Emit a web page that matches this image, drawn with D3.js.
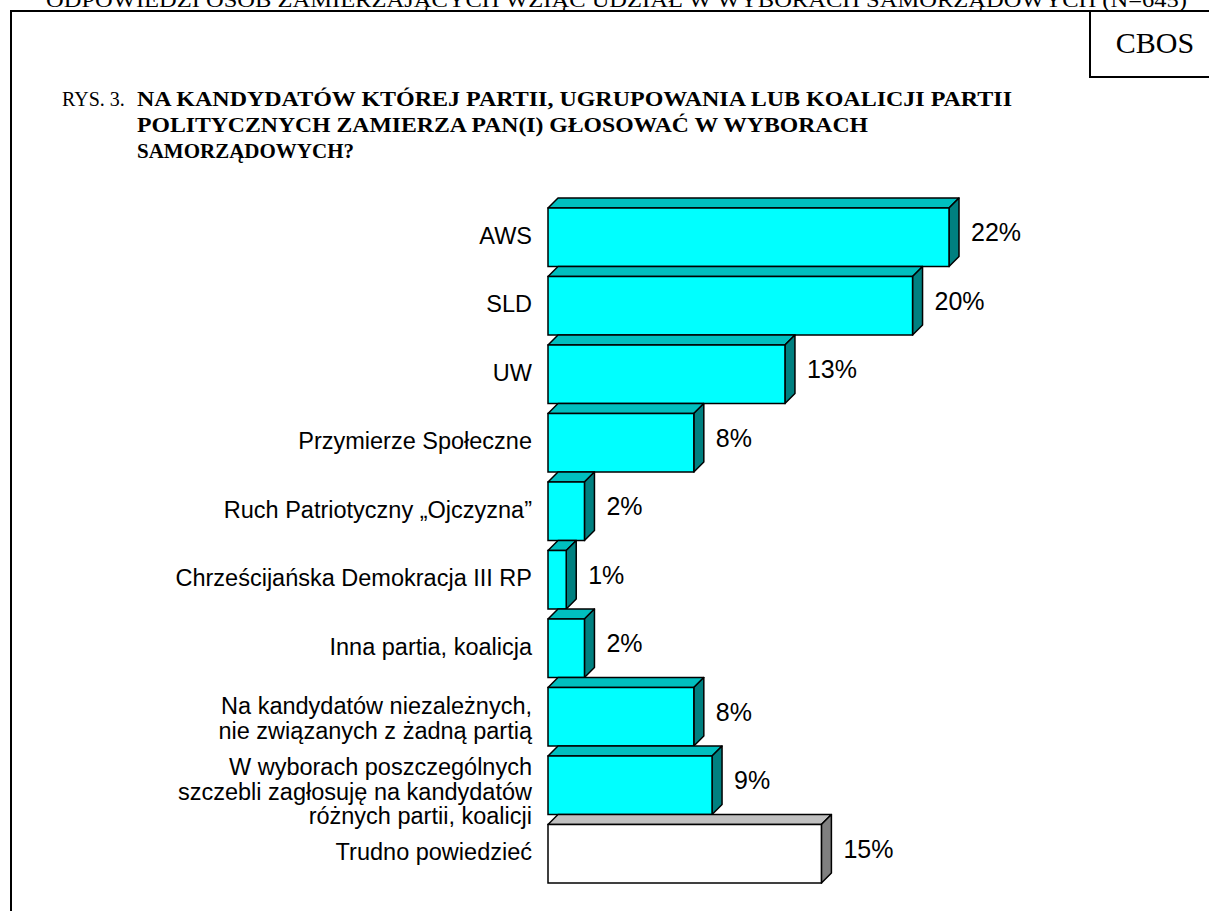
<!DOCTYPE html>
<html>
<head>
<meta charset="utf-8">
<script src="https://cdn.jsdelivr.net/npm/d3@7"></script>
<style>
body { margin: 0; background: #fff; }
svg { display: block; }
.cat { font-family: "Liberation Sans", Arial, sans-serif; font-size: 23.5px; fill: #000; }
.val { font-family: "Liberation Sans", Arial, sans-serif; font-size: 25px; fill: #000; }
.serif { font-family: "Liberation Serif", "Times New Roman", serif; fill: #000; }
</style>
</head>
<body>
<svg id="main"></svg>
<script>
// chart data
var categories = [
  "AWS",
  "SLD",
  "UW",
  "Przymierze Społeczne",
  "Ruch Patriotyczny „Ojczyzna”",
  "Chrześcijańska Demokracja III RP",
  "Inna partia, koalicja",
  "Na kandydatów niezależnych,|nie związanych z żadną partią",
  "W wyborach poszczególnych|szczebli zagłosuję na kandydatów|różnych partii, koalicji",
  "Trudno powiedzieć"
];
var values = [22, 20, 13, 8, 2, 1, 2, 8, 9, 15];
var valueLabels = ["22%", "20%", "13%", "8%", "2%", "1%", "2%", "8%", "9%", "15%"];
var highlight = [false, false, false, false, false, false, false, false, false, true]; // white bar

var topText = "ODPOWIEDZI OSÓB ZAMIERZAJĄCYCH WZIĄĆ UDZIAŁ W WYBORACH SAMORZĄDOWYCH (N=645)";
var figNo = "RYS. 3.";
var titleLines = [
  "NA KANDYDATÓW KTÓREJ PARTII, UGRUPOWANIA LUB KOALICJI PARTII",
  "POLITYCZNYCH ZAMIERZA PAN(I) GŁOSOWAĆ W WYBORACH",
  "SAMORZĄDOWYCH?"
];
var titleWidths = [875, 731, null];

var W = 1209, H = 911;
var depth = 10;

function initVis() {
  var s = d3.select("#main").attr("width", W).attr("height", H);

  // frame and header
  s.append("text").attr("class", "serif")
    .attr("x", 46).attr("y", 7)
    .attr("textLength", 1141).attr("lengthAdjust", "spacingAndGlyphs")
    .style("font-size", "22px")
    .text(topText);

  s.append("path")
    .attr("d", "M11," + H + "V11H" + W)
    .attr("fill", "none").attr("stroke", "#000").attr("stroke-width", 2);

  s.append("path")
    .attr("d", "M1090,11V77H" + W)
    .attr("fill", "none").attr("stroke", "#000").attr("stroke-width", 2);

  s.append("text").attr("class", "serif")
    .attr("x", 1155).attr("y", 53)
    .attr("text-anchor", "middle")
    .style("font-size", "30px")
    .text("CBOS");

  s.append("text").attr("class", "serif")
    .attr("x", 62).attr("y", 106)
    .style("font-size", "20px")
    .text(figNo);

  var tl = s.append("g").selectAll("text")
    .data(titleLines).enter()
    .append("text").attr("class", "serif")
    .attr("x", 137)
    .attr("y", function(d, i) { return 106 + i * 26; })
    .style("font-size", "21px").style("font-weight", "bold")
    .text(function(d) { return d; });
  tl.filter(function(d, i) { return titleWidths[i]; })
    .attr("textLength", function(d, i) { return titleWidths[titleLines.indexOf(d)]; })
    .attr("lengthAdjust", "spacingAndGlyphs");

  // scales
  var x = d3.scaleLinear().domain([0, 22]).range([548, 949]);
  var y = d3.scaleBand().domain(categories).range([198, 883]);
  var bh = y.bandwidth() - depth;

  var bars = s.append("g").selectAll("g")
    .data(values).enter()
    .append("g");

  function x0() { return x(0); }

  // top face
  bars.append("path")
    .attr("d", function(d, i) {
      var y0 = y(categories[i]), x1 = x(d);
      return "M" + x0() + "," + (y0 + depth) + "L" + (x0() + depth) + "," + y0 +
        "L" + (x1 + depth) + "," + y0 + "L" + x1 + "," + (y0 + depth) + "Z";
    })
    .attr("fill", function(d, i) { return highlight[i] ? "#c0c0c0" : "#00bfbf"; })
    .attr("stroke", "#000").attr("stroke-width", 1.5).attr("stroke-linejoin", "round");

  // side face
  bars.append("path")
    .attr("d", function(d, i) {
      var y0 = y(categories[i]), x1 = x(d);
      return "M" + x1 + "," + (y0 + depth) + "L" + (x1 + depth) + "," + y0 +
        "L" + (x1 + depth) + "," + (y0 + bh) + "L" + x1 + "," + (y0 + depth + bh) + "Z";
    })
    .attr("fill", function(d, i) { return highlight[i] ? "#808080" : "#008080"; })
    .attr("stroke", "#000").attr("stroke-width", 1.5).attr("stroke-linejoin", "round");

  // front face
  bars.append("rect")
    .attr("x", x0())
    .attr("y", function(d, i) { return y(categories[i]) + depth; })
    .attr("width", function(d) { return x(d) - x0(); })
    .attr("height", bh)
    .attr("fill", function(d, i) { return highlight[i] ? "#ffffff" : "#00ffff"; })
    .attr("stroke", "#000").attr("stroke-width", 1.5);

  // value labels
  s.append("g").selectAll("text")
    .data(values).enter()
    .append("text").attr("class", "val")
    .attr("x", function(d) { return x(d) + depth + 12; })
    .attr("y", function(d, i) { return y(categories[i]) + y.bandwidth() / 2 + 9; })
    .text(function(d, i) { return valueLabels[i]; });

  // category labels
  var lh = 24.5;
  var cat = s.append("g").selectAll("text")
    .data(categories).enter()
    .append("text").attr("class", "cat")
    .attr("text-anchor", "end");

  cat.each(function(d, i) {
    var lines = d.split("|");
    var cy = y(d) + depth + bh / 2;
    var shift = lines.length == 1 ? -2 : (lines.length == 3 ? 6 : 1);
    var first = cy - (lines.length - 1) * lh / 2 + 8.5 + shift;
    d3.select(this).selectAll("tspan")
      .data(lines).enter()
      .append("tspan")
      .attr("x", 532)
      .attr("y", function(t, j) { return first + j * lh; })
      .text(function(t) { return t; });
  });
}

initVis();
</script>
</body>
</html>
